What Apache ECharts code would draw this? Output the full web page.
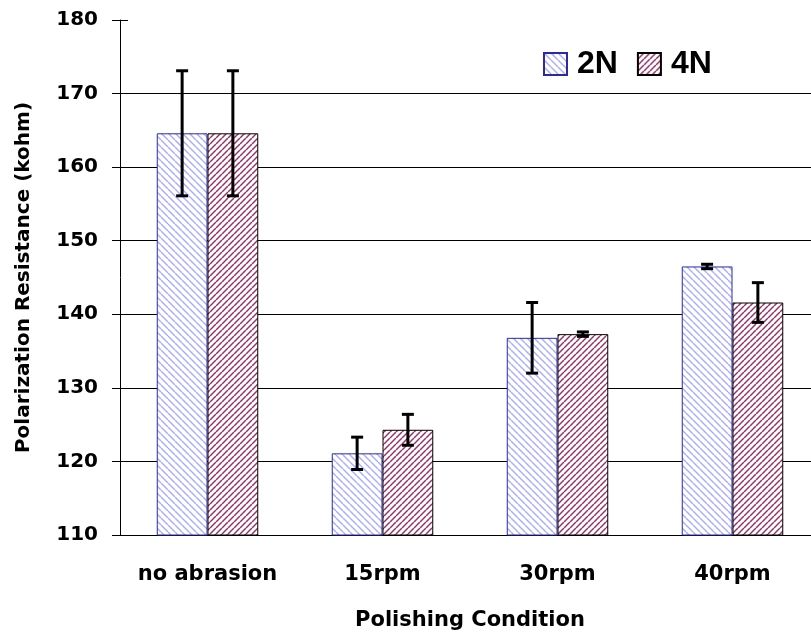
<!DOCTYPE html>
<html>
<head>
<meta charset="utf-8">
<script src="https://cdn.jsdelivr.net/npm/echarts@6/dist/echarts.min.js"></script>
<style>
  html, body { margin: 0; padding: 0; background: #fff; }
  #chart { width: 811px; height: 638px; }
</style>
</head>
<body>
<div id="chart"></div>
<script>
const categories = ['no abrasion', '15rpm', '30rpm', '40rpm']
const values2N = [164.6, 121.1, 136.8, 146.5]
const values4N = [164.6, 124.3, 137.3, 141.6]
const err2N = [8.5, 2.2, 4.8, 0.3]
const err4N = [8.5, 2.1, 0.3, 2.7]

const FONT = 'DejaVu Sans'
const BAR_FRAC = 0.29

// diagonal hatch tile, dir 1 = "\" , dir -1 = "/"
function hatch(size, lineColor, lineWidth, dir) {
    const c = document.createElement('canvas')
    c.width = size
    c.height = size
    const ctx = c.getContext('2d')
    ctx.fillStyle = '#fff'
    ctx.fillRect(0, 0, size, size)
    ctx.strokeStyle = lineColor
    ctx.lineWidth = lineWidth
    for (let k = -1; k <= 1; k++) {
        ctx.beginPath()
        if (dir > 0) {
            ctx.moveTo(k * size, 0)
            ctx.lineTo(k * size + size, size)
        } else {
            ctx.moveTo(k * size, size)
            ctx.lineTo(k * size + size, 0)
        }
        ctx.stroke()
    }
    return c
}

function errorSeries(vals, errs, side) {
    return {
        type: 'custom',
        silent: true,
        z: 5,
        data: vals.map((v, i) => [i, v, errs[i]]),
        renderItem: function (params, api) {
            const i = api.value(0)
            const band = api.size([1, 0])[0]
            const dx = side * band * BAR_FRAC / 2
            const top = api.coord([i, api.value(1) + api.value(2)])
            const bot = api.coord([i, api.value(1) - api.value(2)])
            const x = top[0] + dx
            const cap = 6
            const style = { stroke: '#000', lineWidth: 3 }
            return {
                type: 'group',
                children: [
                    { type: 'line', shape: { x1: x, y1: top[1], x2: x, y2: bot[1] }, style: style },
                    { type: 'line', shape: { x1: x - cap, y1: top[1], x2: x + cap, y2: top[1] }, style: style },
                    { type: 'line', shape: { x1: x - cap, y1: bot[1], x2: x + cap, y2: bot[1] }, style: style }
                ]
            }
        }
    }
}

const chart = echarts.init(document.getElementById('chart'))

const option = {
    animation: false,
    backgroundColor: '#fff',
    grid: {
        left: 120,
        top: 20,
        bottom: 103,
        width: 700,
        outerBoundsMode: 'none'
    },
    legend: {
        left: 538,
        top: 43,
        itemWidth: 23,
        itemHeight: 22,
        itemGap: 19,
        icon: 'rect',
        data: ['2N', '4N'],
        textStyle: {
            fontFamily: 'Liberation Sans',
            fontWeight: 'bold',
            fontSize: 32,
            color: '#000',
            padding: [0, 0, 0, 5]
        }
    },
    xAxis: {
        type: 'category',
        data: categories,
        name: 'Polishing Condition',
        nameLocation: 'middle',
        nameGap: 75,
        nameTextStyle: {
            fontFamily: FONT,
            fontWeight: 'bold',
            fontSize: 21,
            color: '#000'
        },
        axisLine: { lineStyle: { color: '#000', width: 1 } },
        axisTick: { length: 8, lineStyle: { color: '#000' } },
        axisLabel: {
            interval: 0,
            margin: 29,
            fontFamily: FONT,
            fontWeight: 'bold',
            fontSize: 21,
            color: '#000'
        }
    },
    yAxis: [
        {
            type: 'value',
            min: 110,
            max: 180,
            interval: 10,
            name: 'Polarization Resistance (kohm)',
            nameLocation: 'middle',
            nameGap: 86,
            nameTextStyle: {
                fontFamily: FONT,
                fontWeight: 'bold',
                fontSize: 20,
                color: '#000'
            },
            axisLine: { show: true, lineStyle: { color: '#000', width: 1 } },
            axisTick: { show: true, length: 8, lineStyle: { color: '#000' } },
            axisLabel: {
                margin: 22,
                fontFamily: FONT,
                fontWeight: 'bold',
                fontSize: 20,
                color: '#000'
            },
            splitLine: {
                show: true,
                showMaxLine: false,
                lineStyle: { color: '#000', width: 1 }
            }
        },
        {
            // inside half of the crossing ticks
            type: 'value',
            min: 110,
            max: 180,
            interval: 10,
            position: 'left',
            axisLine: { show: false },
            axisTick: { show: true, inside: true, length: 8, lineStyle: { color: '#000' } },
            axisLabel: { show: false },
            splitLine: { show: false }
        }
    ],
    series: [
        {
            name: '2N',
            type: 'bar',
            barWidth: '29%',
            barGap: 0,
            data: values2N,
            itemStyle: {
                color: { image: hatch(7, '#a9abff', 1.4, 1), repeat: 'repeat' },
                borderColor: '#2a2aa8',
                borderWidth: 1
            }
        },
        {
            name: '4N',
            type: 'bar',
            barWidth: '29%',
            barGap: 0,
            data: values4N,
            itemStyle: {
                color: { image: hatch(6, '#993366', 1.5, -1), repeat: 'repeat' },
                borderColor: '#000',
                borderWidth: 1
            }
        },
        errorSeries(values2N, err2N, -1),
        errorSeries(values4N, err4N, 1)
    ]
}

chart.setOption(option)
</script>
</body>
</html>
